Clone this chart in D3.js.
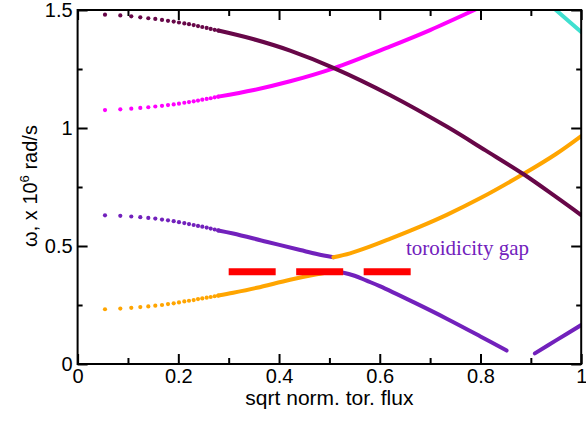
<!DOCTYPE html>
<html><head><meta charset="utf-8">
<script src="https://cdn.jsdelivr.net/npm/d3@7"></script>
<style>body{margin:0;background:#fff} svg{display:block}</style>
</head><body><svg id="c" width="586" height="421"></svg>
<script>
// ---- data ----
const xTicks = [0, 0.2, 0.4, 0.6, 0.8, 1];
const xTickLabels = ["0", "0.2", "0.4", "0.6", "0.8", "1"];
const xMinor = [0.1, 0.3, 0.5, 0.7, 0.9];
const yTicks = [0, 0.5, 1, 1.5];
const yTickLabels = ["0", "0.5", "1", "1.5"];
const yMinor = [0.25, 0.75, 1.25];

// sparse radial grid points at the left (dots)
const dotX = [0.0544, 0.0848, 0.1066, 0.1245, 0.1404, 0.1543, 0.1676, 0.1795, 0.1908, 0.2013,
              0.2119, 0.2212, 0.2305, 0.2391, 0.2476, 0.2563, 0.2643, 0.2722, 0.2794];
const maroonDots = [1.480, 1.477, 1.473, 1.469, 1.465, 1.462, 1.458, 1.454, 1.451, 1.447,
                    1.443, 1.440, 1.436, 1.432, 1.428, 1.424, 1.420, 1.416, 1.413];
const magentaDots = [1.076, 1.079, 1.082, 1.085, 1.088, 1.091, 1.094, 1.097, 1.100, 1.103,
                     1.107, 1.110, 1.113, 1.116, 1.120, 1.123, 1.126, 1.130, 1.133];
const violetDots = [0.630, 0.628, 0.625, 0.622, 0.619, 0.616, 0.612, 0.609, 0.605, 0.601,
                    0.597, 0.593, 0.589, 0.585, 0.582, 0.578, 0.574, 0.570, 0.566];
const orangeDots = [0.232, 0.235, 0.238, 0.241, 0.244, 0.247, 0.250, 0.254, 0.257, 0.261,
                    0.265, 0.268, 0.271, 0.275, 0.278, 0.281, 0.284, 0.287, 0.290];

// continuous parts
const maroonX = [0.2794, 0.35, 0.422, 0.508, 0.62, 0.733, 0.81, 0.885, 0.95, 1.0];
const maroonY = [1.413, 1.376, 1.328, 1.255, 1.140, 1.006, 0.905, 0.805, 0.708, 0.631];
const magentaX = [0.2794, 0.35, 0.422, 0.508, 0.62, 0.70, 0.79];
const magentaY = [1.133, 1.161, 1.198, 1.253, 1.345, 1.415, 1.502];
const violetUpX = [0.2794, 0.309, 0.375, 0.442, 0.475, 0.508];
const violetUpY = [0.566, 0.553, 0.518, 0.483, 0.466, 0.452];
const orangeUpX = [0.508, 0.541, 0.58, 0.62, 0.68, 0.733, 0.80, 0.885, 0.95, 1.0];
const orangeUpY = [0.452, 0.469, 0.497, 0.530, 0.582, 0.632, 0.703, 0.805, 0.890, 0.966];
const orangeLowX = [0.2794, 0.309, 0.356, 0.422, 0.475, 0.508];
const orangeLowY = [0.290, 0.302, 0.323, 0.357, 0.380, 0.392];
const violetLowX = [0.508, 0.528, 0.55, 0.574, 0.60, 0.667, 0.733, 0.799, 0.852];
const violetLowY = [0.392, 0.387, 0.374, 0.353, 0.330, 0.262, 0.192, 0.118, 0.057];
const violetEdgeX = [0.908, 0.95, 1.0];
const violetEdgeY = [0.045, 0.100, 0.165];
const turqX = [0.948, 1.0];
const turqY = [1.503, 1.407];

const gapX = [0.300, 0.665];
const gapY = 0.391;
const gapLabel = "toroidicity gap";
const gapLabelPos = [0.652, 0.462];

const xTitle = "sqrt norm. tor. flux";

// ---- drawing ----
const svg = d3.select("#c");
const L = 77.6, R = 581.2, T = 10, B = 364;
const x = d3.scaleLinear().domain([0, 1]).range([L, R]);
const y = d3.scaleLinear().domain([0, 1.5]).range([B, T]);

const font = "'Liberation Sans', Arial, Helvetica, sans-serif";

svg.append("defs").append("clipPath").attr("id", "clip")
  .append("rect").attr("x", L).attr("y", T).attr("width", R - L).attr("height", B - T);

const plot = svg.append("g").attr("clip-path", "url(#clip)");
const line = d3.line().x(d => x(d[0])).y(d => y(d[1])).curve(d3.curveCatmullRom.alpha(0.5));
const zip = (a, b) => a.map((v, i) => [v, b[i]]);

const C = {maroon: "#670748", magenta: "#ff00ff", violet: "#7221bc", orange: "#ffa500", turq: "#40e0d0", red: "#ff0000"};

function drawLine(xs, ys, col) {
  plot.append("path").datum(zip(xs, ys)).attr("d", line)
    .attr("fill", "none").attr("stroke", col).attr("stroke-width", 4)
    .attr("stroke-linecap", "round").attr("stroke-linejoin", "round");
}
function drawDots(ys, col) {
  plot.append("g").selectAll("circle").data(zip(dotX, ys)).join("circle")
    .attr("cx", d => x(d[0])).attr("cy", d => y(d[1])).attr("r", 2.1).attr("fill", col);
}

drawLine(orangeLowX, orangeLowY, C.orange);
drawLine(violetUpX, violetUpY, C.violet);
drawLine(orangeUpX, orangeUpY, C.orange);
drawLine(violetLowX, violetLowY, C.violet);
drawLine(violetEdgeX, violetEdgeY, C.violet);
drawLine(magentaX, magentaY, C.magenta);
drawLine(maroonX, maroonY, C.maroon);
drawLine(turqX, turqY, C.turq);
drawDots(orangeDots, C.orange);
drawDots(violetDots, C.violet);
drawDots(magentaDots, C.magenta);
drawDots(maroonDots, C.maroon);

// red dashed line at gap
plot.append("line")
  .attr("x1", x(gapX[0])).attr("x2", x(gapX[1])).attr("y1", y(gapY)).attr("y2", y(gapY))
  .attr("stroke", C.red).attr("stroke-width", 7).attr("stroke-dasharray", "47,20.5");

svg.append("text").attr("x", x(gapLabelPos[0])).attr("y", y(gapLabelPos[1]))
  .attr("font-family", "'Liberation Serif', 'Times New Roman', serif").attr("font-size", 21)
  .attr("fill", C.violet).text(gapLabel);

// axes
function styleAxis(g) {
  g.select(".domain").remove();
  g.selectAll("line").attr("stroke", "#000").attr("stroke-width", 2);
  g.selectAll("text").attr("font-family", font).attr("font-size", 20).attr("fill", "#000");
}
svg.append("g").attr("transform", `translate(0,${B})`)
  .call(d3.axisBottom(x).tickValues(xTicks).tickFormat((d, i) => xTickLabels[i]).tickSize(-10).tickPadding(5))
  .call(styleAxis);
svg.append("g").attr("transform", `translate(0,${B})`)
  .call(d3.axisBottom(x).tickValues(xMinor).tickFormat("").tickSize(-6)).call(styleAxis);
svg.append("g").attr("transform", `translate(0,${T})`)
  .call(d3.axisTop(x).tickValues(xTicks).tickFormat("").tickSize(-10)).call(styleAxis);
svg.append("g").attr("transform", `translate(0,${T})`)
  .call(d3.axisTop(x).tickValues(xMinor).tickFormat("").tickSize(-6)).call(styleAxis);
svg.append("g").attr("transform", `translate(${L},0)`)
  .call(d3.axisLeft(y).tickValues(yTicks).tickFormat((d, i) => yTickLabels[i]).tickSize(-10).tickPadding(5))
  .call(styleAxis);
svg.append("g").attr("transform", `translate(${L},0)`)
  .call(d3.axisLeft(y).tickValues(yMinor).tickFormat("").tickSize(-5)).call(styleAxis);
svg.append("g").attr("transform", `translate(${R},0)`)
  .call(d3.axisRight(y).tickValues(yTicks).tickFormat("").tickSize(-10)).call(styleAxis);
svg.append("g").attr("transform", `translate(${R},0)`)
  .call(d3.axisRight(y).tickValues(yMinor).tickFormat("").tickSize(-5)).call(styleAxis);

// frame
svg.append("rect").attr("x", L).attr("y", T).attr("width", R - L).attr("height", B - T)
  .attr("fill", "none").attr("stroke", "#000").attr("stroke-width", 2);

// titles
svg.append("text").attr("x", (L + R) / 2).attr("y", 405).attr("text-anchor", "middle")
  .attr("font-family", font).attr("font-size", 21).text(xTitle);

const yt = svg.append("text").attr("transform", "translate(37,186) rotate(-90)")
  .attr("text-anchor", "middle").attr("font-family", font).attr("font-size", 20);
yt.append("tspan").text("ω, x 10");
yt.append("tspan").attr("font-size", 13).attr("dy", -8).text("6");
yt.append("tspan").attr("dy", 8).text(" rad/s");
</script>
</body></html>
